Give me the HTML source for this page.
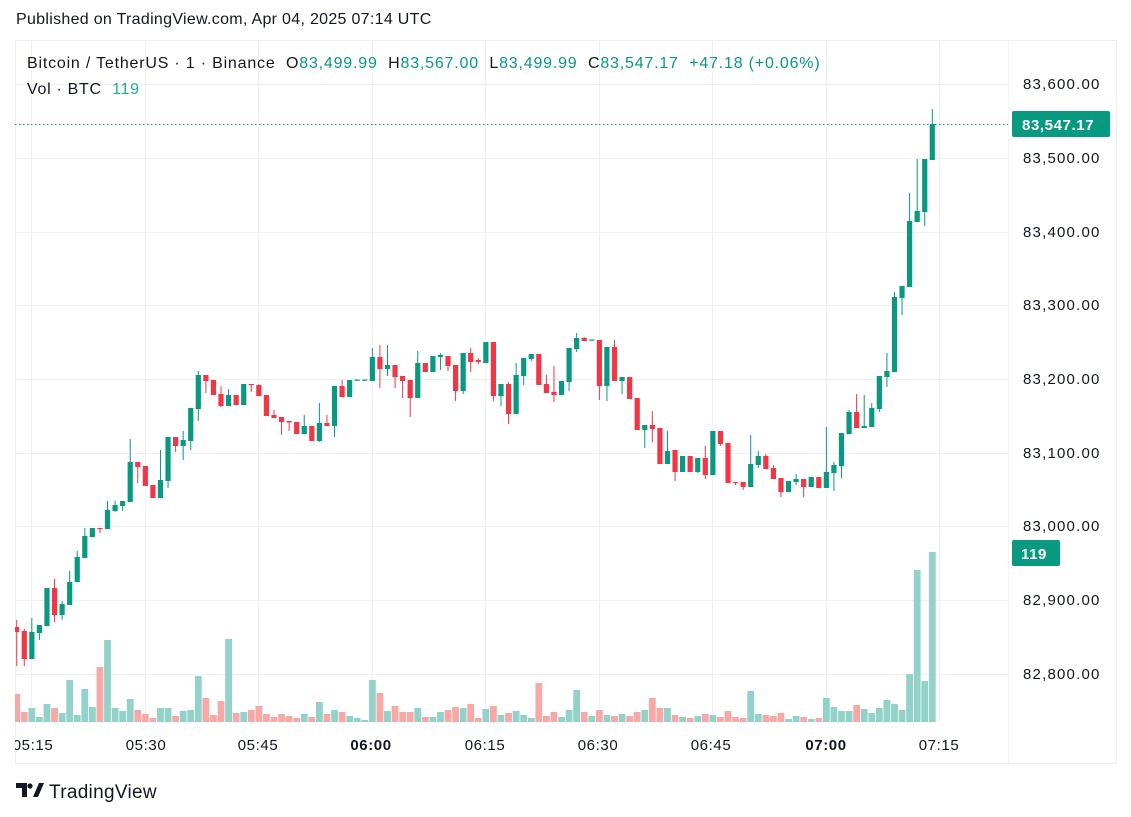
<!DOCTYPE html>
<html><head><meta charset="utf-8"><style>
html,body{margin:0;padding:0;background:#fff;width:1131px;height:817px;overflow:hidden;font-family:"Liberation Sans","DejaVu Sans",sans-serif;}
.t{position:absolute;white-space:nowrap;color:#131722;}
</style></head><body>
<div class="t" style="left:16px;top:11px;font-size:16px;letter-spacing:0.3px;">Published on TradingView.com, Apr 04, 2025 07:14 UTC</div>
<svg id="c" width="1131" height="817" style="position:absolute;left:0;top:0" xmlns="http://www.w3.org/2000/svg">
<rect x="15.5" y="40.5" width="1101" height="723" fill="none" stroke="#eceef1"/>
<g id="grid" stroke="#f0f1f3" stroke-width="1"></g>
<g id="vol"></g>
<g id="cand"></g>
<line x1="15" y1="124.5" x2="1008" y2="124.5" stroke="#089981" stroke-dasharray="1.5,2.5"/>
<g font-size="15" fill="#131722" font-family="Liberation Sans, sans-serif" letter-spacing="1.2">
<text x="1023" y="89">83,600.00</text>
<text x="1023" y="163">83,500.00</text>
<text x="1023" y="237">83,400.00</text>
<text x="1023" y="310">83,300.00</text>
<text x="1023" y="384">83,200.00</text>
<text x="1023" y="458">83,100.00</text>
<text x="1023" y="531">83,000.00</text>
<text x="1023" y="605">82,900.00</text>
<text x="1023" y="679">82,800.00</text>
</g>
<rect x="1012" y="111" width="98" height="26" rx="2" fill="#089981"/>
<text x="1022" y="130" font-size="15" font-weight="bold" fill="#fff" letter-spacing="0.6">83,547.17</text>
<rect x="1012" y="540" width="48" height="26" rx="2" fill="#089981"/>
<text x="1021" y="559" font-size="15" font-weight="bold" fill="#fff" letter-spacing="0.6">119</text>
<g font-size="15" fill="#131722" text-anchor="middle" letter-spacing="0.6">
<text x="33" y="750">05:15</text>
<text x="146" y="750">05:30</text>
<text x="258" y="750">05:45</text>
<text x="371" y="750" font-weight="bold">06:00</text>
<text x="485" y="750">06:15</text>
<text x="598" y="750">06:30</text>
<text x="711" y="750">06:45</text>
<text x="826" y="750" font-weight="bold">07:00</text>
<text x="939" y="750">07:15</text>
</g>
<rect x="0" y="730" width="15" height="30" fill="#fff"/>
<g fill="#131722"><path d="M16 783h11v14h-5v-9h-6z"/><circle cx="30" cy="786" r="2.6"/><path d="M33 797l6-14h5l-6 14z"/></g>
<text x="49" y="798" font-size="19" fill="#131722" letter-spacing="0.3">TradingView</text>
</svg>
<div class="t" style="left:27px;top:55px;font-size:16px;letter-spacing:0.8px;">Bitcoin / TetherUS · 1 · Binance &nbsp;O<span style="color:#089981">83,499.99</span> &nbsp;H<span style="color:#089981">83,567.00</span> &nbsp;L<span style="color:#089981">83,499.99</span> &nbsp;C<span style="color:#089981">83,547.17</span> &nbsp;<span style="color:#089981">+47.18 (+0.06%)</span></div>
<div class="t" style="left:27px;top:81px;font-size:16px;letter-spacing:0.7px;">Vol · BTC &nbsp;<span style="color:#22ab94">119</span></div>
<script>
var NS="http://www.w3.org/2000/svg";
function el(p,t,a){var e=document.createElementNS(NS,t);for(var k in a)e.setAttribute(k,a[k]);p.appendChild(e);return e;}
var g=document.getElementById("grid");
[84,158,232,305,379,453,526,600,674].forEach(function(y){el(g,"line",{x1:15,x2:1008,y1:y+.5,y2:y+.5});});
[31,145,258,372,485,599,712,826,939].forEach(function(x){el(g,"line",{x1:x+.5,x2:x+.5,y1:41,y2:722});});
el(g,"line",{x1:1008.5,x2:1008.5,y1:41,y2:763,stroke:"#f4f5f7"});
var C=[[627,632,620,666],[631,659,629,666],[659,632,618,659],[633,625,625,640],[626,588,588,626],[588,615,579,622],[615,604,601,620],[605,582,571,605],[582,557,551,582],[558,536,528,558],[537,528,528,537],[528,529,528,533],[529,510,501,529],[511,505,501,512],[506,501,501,511],[502,462,439,502],[462,467,462,483],[466,486,466,486],[485,498,485,498],[498,480,450,498],[481,437,437,488],[437,446,437,452],[446,440,431,460],[441,408,408,450],[409,375,371,421],[375,381,375,393],[380,395,380,395],[394,406,386,407],[406,395,389,406],[395,405,395,405],[405,384,384,405],[384,385,384,392],[385,396,384,396],[395,416,395,416],[415,418,410,418],[417,422,417,435],[421,422.5,421,431],[422,434,422,434],[434,426,415,434],[426,441,426,441],[441,423,403,442],[423,426,415,426],[426,386,386,437],[386,397,380,397],[397,380,380,397],[380.5,379.5,380,381],[380.5,379.5,380,381],[381,357,348,381],[357,369,345,388],[369,365,345,376],[365,377,365,388],[376,381,376,398],[380,398,380,417],[398,363,351,398],[363,372,363,372],[372,356,356,372],[357,355,353,370],[356,366,356,371],[365,391,365,401],[391,353,353,394],[353,362,348,372],[360,362,358,364],[363,342,342,363],[342,396,342,401],[396,384,384,406],[384,414,382,424],[414,375,363,414],[376,358,358,385],[359,354,354,361],[354,385,354,385],[384,393,375,393],[392,395,366,402],[395,381,381,395],[382,348,348,391],[349,338,333,352],[338,341,337,341],[340.5,339.5,340,341],[340,386,340,400],[386,347,347,401],[347,381,340,381],[381,377,377,394],[377,399,377,399],[398,430,398,430],[430,425,425,448],[425,429,411,442],[428,464,428,464],[464,451,431,464],[450,472,450,481],[472,456,456,472],[456,472,456,472],[472,458,458,473],[458,475,446,479],[475,431,431,475],[431,444,431,446],[443,483,443,483],[482,483,482,485],[482,487,482,490],[487,464,435,487],[465,456,451,468],[456,469,454,469],[468,479,465,479],[478,492,478,497],[492,481,481,492],[482,479,474,485],[479,487,479,497],[487,477,477,487],[477,488,477,488],[488,472,427,488],[473,465,462,491],[466,433,433,478],[434,412,410,434],[412,428,394,428],[428,426,395,428],[427,408,403,427],[409,376,376,412],[377,371,353,387],[372,297,292,372],[298,286,286,315],[287,221,193,287],[222,211,159,222],[212,159,159,226],[160,124,109,160]];
var V=[28,10,14,5,18,14,9,42,7,33,15,55,82,14,11,23,12,8,4,14,14,6,11,12,46,24,7,21,83,9,10,12,16,8,5,8,6,4,8,5,20,8,12,10,6,4,2,42,29,11,16,10,10,14,5,5,10,12,15,14,18,4,13,16,7,9,11,7,4,39,6,10,5,12,32,10,6,12,7,6,8,6,10,12,24,14,14,7,5,4,6,8,7,5,11,5,4,31,8,7,6,9,3,6,5,3,4,24,15,11,11,17,13,9,14,22,18,12,48,152,41,170];
var cg=document.getElementById("cand"),vg=document.getElementById("vol");
for(var i=0;i<C.length;i++){
 var x=16.7+i*7.567,c=C[i],up=c[1]<=c[0],col=up?"#089981":"#f23645";
 var vx=Math.max(x-3.4,15);
 el(vg,"rect",{x:vx,y:722-V[i],width:x+3.4-vx,height:V[i],fill:up?"#92d2c8":"#f7a9a8"});
 el(cg,"rect",{x:x-0.5,y:c[2],width:1,height:Math.max(c[3]-c[2],1),fill:col});
 var t=Math.min(c[0],c[1]),b=Math.max(c[0],c[1]);
 var bx=Math.max(x-2.6,15);
 el(cg,"rect",{x:bx,y:t,width:x+2.6-bx,height:Math.max(b-t,1.2),fill:col});
}
</script>
</body></html>
